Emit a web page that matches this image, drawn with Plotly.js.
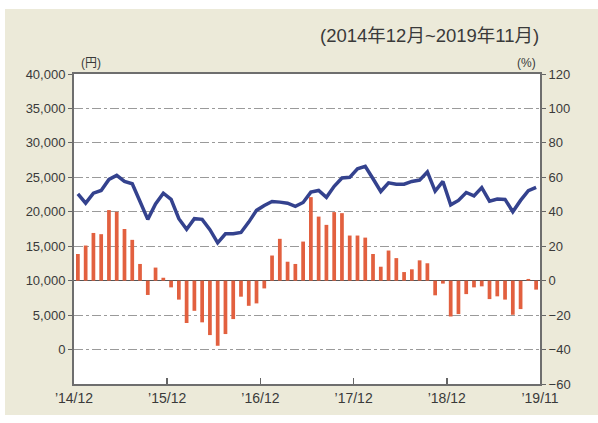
<!DOCTYPE html>
<html>
<head>
<meta charset="utf-8">
<script src="https://cdn.plot.ly/plotly-3.0.1.min.js"></script>
<style>
  html, body { margin:0; padding:0; background:#ffffff; width:598px; height:423px; overflow:hidden; }
  #bg { position:absolute; left:5px; top:9px; width:593px; height:406px; background:#ecead9; }
  #chart { position:absolute; left:0; top:0; width:598px; height:423px; }
</style>
</head>
<body>
<div id="bg"></div>
<div id="chart"></div>
<script>
// Months Dec 2014 .. Nov 2019 (60 months), index 0..59
const months = Array.from({length: 60}, (_, i) => i);

// Price line (yen, left axis)
const priceYen = [
  22600, 21250, 22700, 23100, 24700, 25280, 24400, 24070, 21500, 18900,
  21150, 22700, 21800, 19000, 17450, 19000, 18900, 17400, 15500, 16800,
  16800, 17000, 18500, 20200, 20900, 21500, 21400, 21250, 20800, 21350,
  22850, 23100, 22100, 23700, 24900, 25000, 26250, 26600, 24800, 22950,
  24200, 24000, 24000, 24400, 24600, 25780, 23000, 24400, 21000, 21650,
  22800, 22300, 23500, 21550, 21850, 21800, 20000, 21650, 23050, 23550
];

// Year-on-year change (%, right axis)
const changePct = [
  15.5, 20.4, 27.7, 27.0, 41.0, 40.0, 30.0, 23.7, 9.7, -8.3,
  7.6, 1.7, -3.9, -11.0, -24.6, -17.5, -24.2, -31.6, -37.8, -31.0,
  -22.3, -9.3, -14.6, -13.2, -4.5, 14.6, 24.3, 11.0, 9.7, 22.7,
  48.5, 37.2, 32.4, 39.8, 39.2, 26.2, 26.2, 25.0, 15.5, 8.1,
  17.5, 13.1, 5.0, 6.6, 11.8, 10.1, -8.5, -1.7, -20.8, -19.4,
  -7.8, -3.9, -3.3, -10.7, -9.1, -11.0, -19.8, -16.5, 1.0, -5.2
];

// Axis labels
const xTickVals = [-0.5, 11.5, 23.5, 35.5, 47.5, 59.5];
const xTickText = ["\u201914/12", "\u201915/12", "\u201916/12", "\u201917/12", "\u201918/12", "\u201919/11"];
const yTickVals = [0, 5000, 10000, 15000, 20000, 25000, 30000, 35000, 40000];
const yTickText = ["0", "5,000", "10,000", "15,000", "20,000", "25,000", "30,000", "35,000", "40,000"];
const y2TickVals = [-60, -40, -20, 0, 20, 40, 60, 80, 100, 120];

const baseFamily = "'Liberation Sans', Arial, sans-serif";
const tickFont = {family: baseFamily, size: 13, color: "#3a3a3a"};
const xTickFont = {family: baseFamily, size: 14, color: "#3a3a3a"};

const traces = [
  {
    type: "bar", x: months, y: changePct, yaxis: "y2",
    marker: {color: "#e2603f", line: {width: 0}},
    hoverinfo: "skip"
  },
  {
    type: "scatter", mode: "lines", x: months, y: priceYen, yaxis: "y",
    line: {color: "#34428e", width: 3.5, shape: "linear"},
    hoverinfo: "skip"
  }
];

const layout = {
  width: 598, height: 423,
  margin: {l: 74, r: 58, t: 74, b: 39, pad: 0},
  paper_bgcolor: "rgba(0,0,0,0)",
  plot_bgcolor: "#ffffff",
  showlegend: false,
  bargap: 0.52,
  font: tickFont,
  xaxis: {
    range: [-0.5, 59.5],
    tickvals: xTickVals, ticktext: xTickText,
    ticks: "inside", ticklen: 6, tickwidth: 1.5, tickcolor: "#666",
    showgrid: false, zeroline: false,
    showline: true, linecolor: "#6e6e6e", linewidth: 2, mirror: true,
    tickfont: xTickFont
  },
  yaxis: {
    range: [-5000, 40000],
    tickvals: yTickVals, ticktext: yTickText,
    ticks: "outside", ticklen: 4, tickwidth: 1, tickcolor: "#666",
    showgrid: true, gridcolor: "#9a9a9a", gridwidth: 1, griddash: "dashdot",
    zeroline: false,
    showline: true, linecolor: "#6e6e6e", linewidth: 2, mirror: true,
    tickfont: tickFont
  },
  yaxis2: {
    overlaying: "y", side: "right",
    range: [-60, 120],
    tickvals: y2TickVals,
    ticks: "outside", ticklen: 4, tickwidth: 1, tickcolor: "#666",
    showgrid: false,
    zeroline: true, zerolinecolor: "#555555", zerolinewidth: 1.5,
    showline: true, linecolor: "#6e6e6e", linewidth: 2,
    tickfont: tickFont
  },
  annotations: [
    {xref: "paper", yref: "paper", x: 1.003, y: 1.085, xanchor: "right", yanchor: "bottom",
     text: "(2014年12月~2019年11月)", showarrow: false,
     font: {family: "'Liberation Sans', 'Noto Sans CJK JP', sans-serif", size: 18.5, color: "#3a3a3a"}},
    {xref: "paper", yref: "paper", x: 0.01, y: 1.005, xanchor: "left", yanchor: "bottom",
     text: "(円)", showarrow: false,
     font: {family: "'Liberation Sans', 'Noto Sans CJK JP', sans-serif", size: 12, color: "#3a3a3a"}},
    {xref: "paper", yref: "paper", x: 0.995, y: 1.005, xanchor: "right", yanchor: "bottom",
     text: "(%)", showarrow: false,
     font: {family: baseFamily, size: 12, color: "#3a3a3a"}}
  ]
};

Plotly.newPlot("chart", traces, layout, {staticPlot: true, displayModeBar: false});
</script>
</body>
</html>
